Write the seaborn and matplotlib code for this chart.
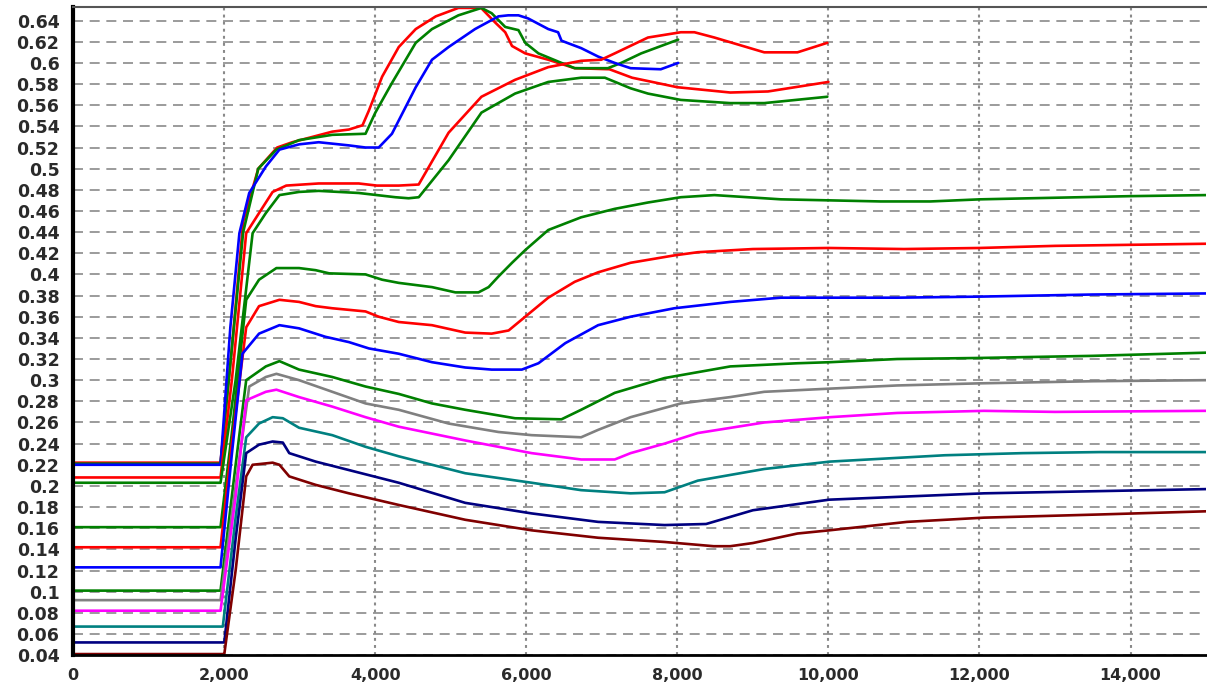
import numpy as np
import pandas as pd
import matplotlib
matplotlib.use("Agg")
import matplotlib.pyplot as plt
from matplotlib.ticker import MultipleLocator, AutoMinorLocator, FuncFormatter
import seaborn as sns

# series (x = time, y = value)
red_a_x = [0, 1950, 2100, 2250, 2450, 2700, 2900, 3430, 3650, 3830, 3915, 4090, 4310, 4535, 4800, 5100,
           5400, 5590, 5720, 5810, 5985, 6290, 6640, 7100, 7400, 8000, 8700, 9200, 10000]
red_a_y = [0.222, 0.222, 0.33, 0.45, 0.50, 0.520, 0.525, 0.535, 0.537, 0.541, 0.555, 0.587, 0.615, 0.632,
           0.644, 0.652, 0.652, 0.638, 0.629, 0.616, 0.609, 0.603, 0.595, 0.594, 0.586, 0.577, 0.572, 0.573, 0.582]

green_a_x = [0, 1950, 2100, 2250, 2450, 2690, 2990, 3430, 3870, 4000, 4220, 4535, 4750, 5100, 5405, 5540,
             5720, 5895, 5985, 6160, 6465, 6640, 7080, 7255, 7520, 8010]
green_a_y = [0.221, 0.221, 0.33, 0.44, 0.50, 0.518, 0.527, 0.532, 0.533, 0.553, 0.581, 0.619, 0.632, 0.645,
             0.652, 0.647, 0.634, 0.631, 0.619, 0.609, 0.600, 0.595, 0.595, 0.600, 0.609, 0.622]

blue_a_x = [0, 1950, 2080, 2200, 2330, 2550, 2730, 2990, 3250, 3650, 3870, 4045, 4220, 4535, 4750, 4970,
            5320, 5630, 5760, 5895, 6025, 6290, 6420, 6465, 6725, 6950, 7170, 7380, 7780, 8010]
blue_a_y = [0.220, 0.220, 0.35, 0.439, 0.477, 0.502, 0.518, 0.523, 0.525, 0.522, 0.520, 0.520, 0.533, 0.577,
            0.603, 0.615, 0.632, 0.644, 0.645, 0.645, 0.642, 0.632, 0.629, 0.621, 0.614, 0.606, 0.600, 0.595,
            0.594, 0.600]

red_b_x = [0, 1950, 2100, 2290, 2460, 2640, 2820, 3250, 3780, 4020, 4310, 4574, 4970, 5405, 5850, 6290,
           6725, 6990, 7170, 7610, 8045, 8225, 8490, 9150, 9590, 9985]
red_b_y = [0.208, 0.208, 0.30, 0.439, 0.458, 0.478, 0.484, 0.486, 0.486, 0.484, 0.484, 0.485, 0.534, 0.568,
           0.584, 0.596, 0.602, 0.603, 0.609, 0.624, 0.629, 0.629, 0.624, 0.610, 0.610, 0.619]

green_b_x = [0, 1950, 2150, 2375, 2550, 2730, 2990, 3250, 3780, 4265, 4440, 4575, 4970, 5405, 5850, 6290,
             6725, 7040, 7380, 7610, 8045, 8700, 9150, 9985]
green_b_y = [0.203, 0.203, 0.30, 0.439, 0.458, 0.475, 0.478, 0.479, 0.477, 0.473, 0.472, 0.473, 0.508, 0.553,
             0.571, 0.582, 0.586, 0.586, 0.576, 0.571, 0.565, 0.562, 0.562, 0.568]

green_c_x = [0, 1950, 2100, 2290, 2460, 2690, 2990, 3210, 3390, 3870, 4090, 4310, 4750, 5060, 5365, 5500,
             5630, 5810, 5985, 6290, 6725, 7170, 7610, 8045, 8490, 8930, 9370, 10690, 11350, 12010, 13330,
             13990, 15000]
green_c_y = [0.161, 0.161, 0.25, 0.376, 0.395, 0.406, 0.406, 0.404, 0.401, 0.400, 0.395, 0.392, 0.388, 0.383,
             0.383, 0.388, 0.398, 0.411, 0.423, 0.442, 0.454, 0.462, 0.468, 0.473, 0.475, 0.473, 0.471, 0.469,
             0.469, 0.471, 0.473, 0.474, 0.475]

red_c_x = [0, 1950, 2100, 2290, 2460, 2730, 2990, 3210, 3430, 3870, 4045, 4310, 4750, 5190, 5540, 5765,
           5985, 6290, 6640, 6950, 7380, 7960, 8270, 9000, 10000, 11000, 12000, 13000, 14000, 15000]
red_c_y = [0.142, 0.142, 0.24, 0.350, 0.370, 0.376, 0.374, 0.370, 0.368, 0.365, 0.360, 0.355, 0.352, 0.345,
           0.344, 0.347, 0.360, 0.378, 0.393, 0.402, 0.411, 0.418, 0.421, 0.424, 0.425, 0.424, 0.425, 0.427,
           0.428, 0.429]

blue_c_x = [0, 1950, 2100, 2240, 2460, 2730, 2990, 3340, 3650, 3915, 4310, 4750, 5190, 5540, 5940, 6160,
            6515, 6950, 7380, 7960, 8700, 9370, 10020, 10910, 12000, 13500, 15000]
blue_c_y = [0.123, 0.123, 0.23, 0.325, 0.344, 0.352, 0.349, 0.341, 0.336, 0.330, 0.325, 0.317, 0.312, 0.310,
            0.310, 0.316, 0.335, 0.352, 0.360, 0.368, 0.374, 0.378, 0.378, 0.378, 0.379, 0.381, 0.382]

green_d_x = [0, 1950, 2150, 2290, 2550, 2730, 2990, 3430, 3870, 4310, 4750, 5190, 5850, 6465, 6725, 7170,
             7830, 8700, 9590, 10020, 10910, 12000, 13500, 15000]
green_d_y = [0.101, 0.101, 0.22, 0.300, 0.313, 0.318, 0.310, 0.303, 0.294, 0.287, 0.278, 0.272, 0.264, 0.263,
             0.272, 0.288, 0.302, 0.313, 0.316, 0.317, 0.320, 0.321, 0.323, 0.326]

gray_x = [0, 1950, 2150, 2330, 2550, 2690, 2990, 3430, 3870, 4310, 4970, 5630, 6070, 6725, 6950, 7380,
          8045, 8700, 9150, 10020, 10910, 12000, 13500, 15000]
gray_y = [0.092, 0.092, 0.20, 0.294, 0.303, 0.306, 0.300, 0.289, 0.278, 0.272, 0.259, 0.251, 0.248, 0.246,
          0.253, 0.265, 0.278, 0.284, 0.289, 0.292, 0.295, 0.297, 0.299, 0.300]

magenta_x = [0, 1950, 2150, 2290, 2550, 2690, 2990, 3430, 3870, 4310, 5190, 6070, 6725, 7170, 7380, 7830,
             8270, 9150, 10020, 10910, 12060, 13000, 15000]
magenta_y = [0.082, 0.082, 0.19, 0.281, 0.289, 0.291, 0.284, 0.275, 0.265, 0.256, 0.243, 0.231, 0.225, 0.225,
             0.231, 0.240, 0.250, 0.260, 0.265, 0.269, 0.271, 0.270, 0.271]

teal_x = [0, 1980, 2150, 2290, 2460, 2640, 2775, 2990, 3430, 3870, 4310, 5190, 6070, 6725, 7380, 7830,
          8270, 9150, 10020, 11540, 12570, 13590, 15000]
teal_y = [0.067, 0.067, 0.17, 0.246, 0.259, 0.265, 0.264, 0.255, 0.248, 0.237, 0.228, 0.212, 0.203, 0.196,
          0.193, 0.194, 0.205, 0.216, 0.223, 0.229, 0.231, 0.232, 0.232]

navy_x = [0, 2000, 2150, 2290, 2460, 2640, 2775, 2860, 3210, 3650, 4310, 5190, 6070, 6950, 7830, 8380,
          9000, 10010, 12060, 15000]
navy_y = [0.052, 0.052, 0.15, 0.231, 0.239, 0.242, 0.241, 0.231, 0.223, 0.215, 0.203, 0.184, 0.174, 0.166,
          0.163, 0.164, 0.177, 0.187, 0.193, 0.197]

maroon_x = [0, 2000, 2150, 2290, 2375, 2640, 2730, 2860, 3210, 3650, 4310, 5190, 6070, 6950, 7830, 8480,
            8700, 9000, 9590, 10010, 11040, 12060, 13590, 15000]
maroon_y = [0.041, 0.041, 0.12, 0.209, 0.220, 0.222, 0.220, 0.209, 0.201, 0.193, 0.182, 0.168, 0.158, 0.151,
            0.147, 0.143, 0.143, 0.146, 0.155, 0.158, 0.166, 0.170, 0.173, 0.176]

series = {
    "red_a": (red_a_x, red_a_y, "#FF0000"),
    "green_a": (green_a_x, green_a_y, "#008000"),
    "blue_a": (blue_a_x, blue_a_y, "#0000FF"),
    "red_b": (red_b_x, red_b_y, "#FF0000"),
    "green_b": (green_b_x, green_b_y, "#008000"),
    "green_c": (green_c_x, green_c_y, "#008000"),
    "red_c": (red_c_x, red_c_y, "#FF0000"),
    "blue_c": (blue_c_x, blue_c_y, "#0000FF"),
    "green_d": (green_d_x, green_d_y, "#008000"),
    "gray": (gray_x, gray_y, "#808080"),
    "magenta": (magenta_x, magenta_y, "#FF00FF"),
    "teal": (teal_x, teal_y, "#008080"),
    "navy": (navy_x, navy_y, "#000080"),
    "maroon": (maroon_x, maroon_y, "#800000"),
}

frames = [pd.DataFrame({"x": xs, "y": ys, "series": name}) for name, (xs, ys, _) in series.items()]
df = pd.concat(frames, ignore_index=True)
palette = {name: c for name, (_, _, c) in series.items()}

sns.set_style("white")
plt.rcParams["font.family"] = ["DejaVu Sans"]

fig = plt.figure(figsize=(12.07, 6.86), dpi=100)
ax = fig.add_axes([0.0607, 0.045, 0.9385, 0.945])

sns.lineplot(data=df, x="x", y="y", hue="series", palette=palette, estimator=None,
             sort=False, legend=False, linewidth=1.9, ax=ax)

ax.set_xlim(0, 15000)
ax.set_ylim(0.04, 0.653)
ax.set_xlabel("")
ax.set_ylabel("")

ax.xaxis.set_major_locator(MultipleLocator(2000))
ax.xaxis.set_minor_locator(MultipleLocator(500))
ax.yaxis.set_major_locator(MultipleLocator(0.02))
ax.yaxis.set_minor_locator(AutoMinorLocator(5))
ax.xaxis.set_major_formatter(FuncFormatter(lambda v, p: f"{int(round(v)):,}"))
ax.yaxis.set_major_formatter(FuncFormatter(lambda v, p: f"{v:.2f}".rstrip("0").rstrip(".")))

ax.set_axisbelow(True)
ax.xaxis.grid(True, which="major", linestyle=(0, (1.4, 2.0)), color="#8a8a8a", linewidth=1.5)
ax.yaxis.grid(True, which="major", linestyle=(0, (6, 4)), color="#8a8a8a", linewidth=1.2)

ax.tick_params(axis="both", which="major", direction="out", length=4, width=1, color="#555555",
               labelsize=12.5, labelcolor="#2a2a2a")
ax.tick_params(axis="x", which="major", labelsize=11.5, pad=5)
ax.tick_params(axis="both", which="minor", direction="out", length=2.5, width=0.8, color="#777777")
ax.tick_params(axis="y", which="major", pad=6)
for lab in ax.get_xticklabels() + ax.get_yticklabels():
    lab.set_fontweight("bold")

ax.spines["left"].set_linewidth(3)
ax.spines["left"].set_color("black")
ax.spines["bottom"].set_linewidth(2)
ax.spines["bottom"].set_color("black")
ax.spines["top"].set_linewidth(1.5)
ax.spines["top"].set_color("#555555")
ax.spines["right"].set_visible(False)

fig.savefig("out.png", dpi=100)
